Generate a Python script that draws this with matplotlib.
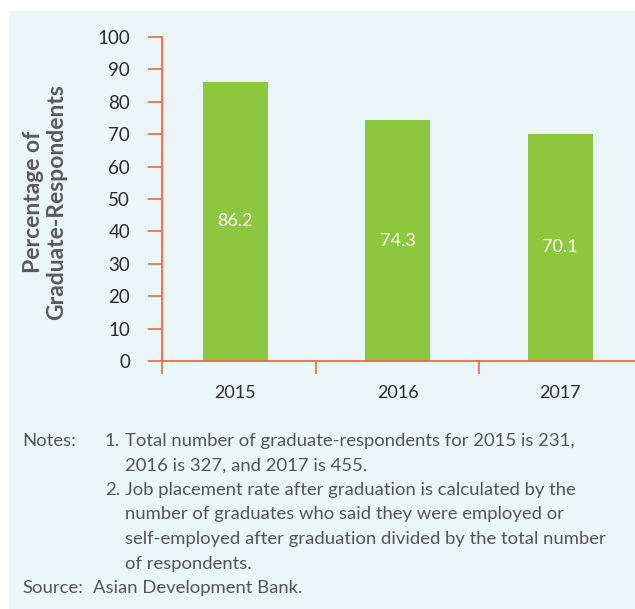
import matplotlib
matplotlib.use("Agg")
import matplotlib.pyplot as plt
from matplotlib.patches import Rectangle

# Дані
years = ["2015", "2016", "2017"]
rates = [86.2, 74.3, 70.1]
y_ticks = [0, 10, 20, 30, 40, 50, 60, 70, 80, 90, 100]

notes_lines = [
    ("Notes:", "1.", "Total number of graduate-respondents for 2015 is 231,"),
    ("", "", "2016 is 327, and 2017 is 455."),
    ("", "2.", "Job placement rate after graduation is calculated by the"),
    ("", "", "number of graduates who said they were employed or"),
    ("", "", "self-employed after graduation divided by the total number"),
    ("", "", "of respondents."),
]
source_text = "Asian Development Bank."

# Кольори
bg = "#EBF6F8"
bar_color = "#8DC63F"
axis_color = "#F26A35"
note_color = "#555555"

W, H = 635, 609
fig = plt.figure(figsize=(W / 100, H / 100), dpi=100)
fig.patch.set_facecolor("white")
fig.patches.append(Rectangle((9 / W, 0), 1 - 9 / W, (H - 11) / H,
                             transform=fig.transFigure, color=bg, zorder=-10))

ax = fig.add_axes([162 / W, 1 - 361 / H, (W - 162) / W, (361 - 37) / H])
ax.set_facecolor("none")
ax.set_zorder(5)

x = list(range(len(years)))
ax.bar(x, rates, width=0.40, color=bar_color, zorder=2)

for xi, v in zip(x, rates):
    ax.text(xi, v / 2, f"{v}", ha="center", va="center", color="white",
            fontsize=13, family=["Lato", "DejaVu Sans"], zorder=3)

ax.set_xlim(-0.45, 2.46)
ax.set_ylim(0, 100)

for s in ["top", "right"]:
    ax.spines[s].set_visible(False)
ax.spines["left"].set_color(axis_color)
ax.spines["bottom"].set_color(axis_color)
ax.spines["left"].set_linewidth(1.3)
ax.spines["bottom"].set_linewidth(1.3)

ax.set_yticks(y_ticks)
ax.set_yticklabels([str(t) for t in y_ticks], family=["Lato", "DejaVu Sans"],
                   fontsize=13.5, color="#2b2b2b")
ax.tick_params(axis="y", length=10, width=1.2, color=axis_color, pad=13)

# Межі категорій як основні поділки, підписи років як другорядні
ax.set_xticks([-0.45, 0.5, 1.5])
ax.set_xticklabels([])
ax.tick_params(axis="x", which="major", length=9.5, width=1.2, color=axis_color)
ax.set_xticks(x, minor=True)
ax.set_xticklabels(years, minor=True, family=["Lato", "DejaVu Sans"],
                   fontsize=13, color="#2b2b2b")
ax.tick_params(axis="x", which="minor", length=0, pad=17)

fig.text(45 / W, 1 - 202 / H, "Percentage of\nGraduate-Respondents",
         rotation=90, ha="center", va="center", fontsize=16.5, fontweight="bold",
         color="#5a5a5a", family=["Lato", "DejaVu Sans"], linespacing=1.1)

# Примітки
note_font = ["Lato", "DejaVu Sans"]
fs = 13.3
y0 = 441
dy = 24.5
for i, (lab, num, txt) in enumerate(notes_lines):
    yy = 1 - (y0 + i * dy) / H
    if lab:
        fig.text(22 / W, yy, lab, ha="left", va="center", fontsize=fs,
                 color=note_color, family=note_font)
    if num:
        fig.text(105 / W, yy, num, ha="left", va="center", fontsize=fs,
                 color=note_color, family=note_font)
    fig.text(125 / W, yy, txt, ha="left", va="center", fontsize=fs,
             color=note_color, family=note_font)

yy = 1 - (y0 + len(notes_lines) * dy) / H
fig.text(22 / W, yy, "Source:", ha="left", va="center", fontsize=fs,
         color=note_color, family=note_font)
fig.text(93 / W, yy, source_text, ha="left", va="center", fontsize=fs,
         color=note_color, family=note_font)

fig.savefig("out.png", dpi=100)
